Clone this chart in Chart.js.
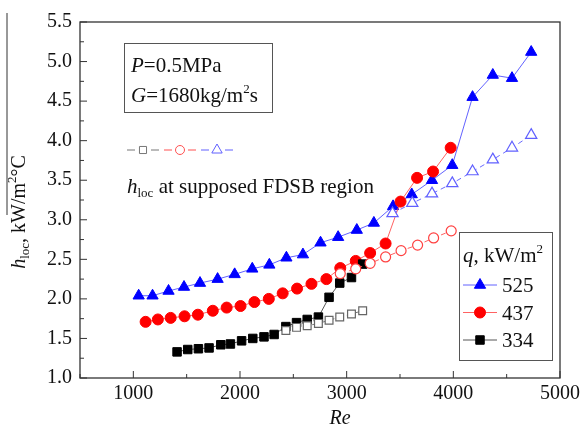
<!DOCTYPE html>
<html>
<head>
<meta charset="utf-8">
<script src="https://cdn.jsdelivr.net/npm/chart.js@4"></script>
<style>
  body { margin: 0; background: #fff; }
  #wrap { width: 584px; height: 428px; }
</style>
</head>
<body>
<div id="wrap"><canvas id="hlocChart" width="584" height="428"></canvas></div>
<script>
// q = 525 kW/m2
const re525 = [1050, 1180, 1330, 1475, 1625, 1790, 1950, 2115, 2275, 2435, 2590, 2755, 2920, 3095, 3255, 3435, 3610, 3800, 3990, 4180, 4370, 4550, 4730];
const h525 = [2.04, 2.04, 2.1, 2.15, 2.2, 2.25, 2.31, 2.38, 2.43, 2.52, 2.56, 2.71, 2.78, 2.87, 2.96, 3.17, 3.32, 3.5, 3.69, 4.55, 4.83, 4.79, 5.12];
// q = 437 kW/m2
const re437 = [1115, 1230, 1350, 1480, 1605, 1745, 1875, 2005, 2135, 2270, 2400, 2535, 2670, 2810, 2940, 3085, 3220, 3365, 3505, 3660, 3810, 3975];
const h437 = [1.71, 1.74, 1.76, 1.78, 1.8, 1.85, 1.89, 1.91, 1.96, 2.0, 2.07, 2.13, 2.19, 2.25, 2.39, 2.48, 2.58, 2.7, 3.23, 3.53, 3.61, 3.91];
// q = 334 kW/m2
const re334 = [1410, 1510, 1610, 1710, 1820, 1910, 2015, 2120, 2225, 2320, 2430, 2530, 2630, 2735, 2835, 2935, 3045, 3150];
const h334 = [1.33, 1.36, 1.37, 1.38, 1.42, 1.43, 1.47, 1.5, 1.52, 1.55, 1.65, 1.7, 1.74, 1.77, 2.02, 2.2, 2.27, 2.44];

// h_loc at supposed FDSB region (open symbols)
const reFd525 = [3430, 3615, 3800, 3990, 4180, 4370, 4550, 4730];
const hFd525 = [3.08, 3.21, 3.33, 3.46, 3.61, 3.76, 3.91, 4.07];
const reFd437 = [2940, 3085, 3220, 3365, 3510, 3665, 3815, 3980];
const hFd437 = [2.32, 2.38, 2.45, 2.53, 2.61, 2.68, 2.77, 2.86];
const reFd334 = [2430, 2530, 2630, 2735, 2835, 2935, 3045, 3150];
const hFd334 = [1.6, 1.64, 1.66, 1.69, 1.73, 1.77, 1.81, 1.85];

const xTicks = [1000, 2000, 3000, 4000, 5000];
const yTicks = [1.0, 1.5, 2.0, 2.5, 3.0, 3.5, 4.0, 4.5, 5.0, 5.5];
const legendLabels = ["525", "437", "334"];

const SERIF = "'Liberation Serif', 'DejaVu Serif', serif";

const pts = (xs, ys) => xs.map((v, i) => ({ x: v, y: ys[i] }));

const styles = {
  s525: { color: "#0000ff", line: "rgba(70,70,255,0.85)", shape: "triangle", r: 6.5 },
  s437: { color: "#ff0000", line: "rgba(255,70,70,0.85)", shape: "circle", r: 5.5 },
  s334: { color: "#000000", line: "#555555", shape: "rect", r: 6 },
};

const datasets = [
  {
    label: "FDSB 334",
    data: pts(reFd334, hFd334),
    borderColor: "#777777",
    pointStyle: "rect",
    pointRadius: 5.5,
    pointBorderColor: "#666666",
    pointBackgroundColor: "#ffffff",
    pointBorderWidth: 1.2,
    borderWidth: 1,
    borderDash: [5, 4],
  },
  {
    label: "FDSB 437",
    data: pts(reFd437, hFd437),
    borderColor: "rgba(255,80,80,0.9)",
    pointStyle: "circle",
    pointRadius: 5,
    pointBorderColor: "#ff4040",
    pointBackgroundColor: "#ffffff",
    pointBorderWidth: 1.2,
    borderWidth: 1,
    borderDash: [5, 4],
  },
  {
    label: "FDSB 525",
    data: pts(reFd525, hFd525),
    borderColor: "rgba(90,90,255,0.9)",
    pointStyle: "triangle",
    pointRadius: 6.5,
    pointBorderColor: "#6060ff",
    pointBackgroundColor: "#ffffff",
    pointBorderWidth: 1.2,
    borderWidth: 1,
    borderDash: [5, 4],
  },
  {
    label: "334",
    data: pts(re334, h334),
    borderColor: styles.s334.line,
    pointStyle: styles.s334.shape,
    pointRadius: styles.s334.r,
    pointBackgroundColor: styles.s334.color,
    pointBorderColor: styles.s334.color,
    borderWidth: 1,
  },
  {
    label: "437",
    data: pts(re437, h437),
    borderColor: styles.s437.line,
    pointStyle: styles.s437.shape,
    pointRadius: styles.s437.r,
    pointBackgroundColor: styles.s437.color,
    pointBorderColor: styles.s437.color,
    borderWidth: 1,
  },
  {
    label: "525",
    data: pts(re525, h525),
    borderColor: styles.s525.line,
    pointStyle: styles.s525.shape,
    pointRadius: styles.s525.r,
    pointBackgroundColor: styles.s525.color,
    pointBorderColor: styles.s525.color,
    borderWidth: 1,
  },
];

// draw a row of text runs (italic / subscript / superscript)
function drawRuns(ctx, runs, x, y, align) {
  let total = 0;
  runs.forEach((r) => {
    ctx.font = r.font;
    r.w = ctx.measureText(r.t).width;
    total += r.w;
  });
  let cx = align === "center" ? x - total / 2 : x;
  runs.forEach((r) => {
    ctx.font = r.font;
    ctx.fillText(r.t, cx, y + (r.dy || 0));
    cx += r.w;
  });
}

const f = (size, italic) => (italic ? "italic " : "") + size + "px " + SERIF;

const decor = {
  id: "decor",
  afterDraw(chart) {
    const { ctx, chartArea: a, scales } = chart;
    const x = scales.x;
    const y = scales.y;
    ctx.save();

    // frame
    ctx.strokeStyle = "#333";
    ctx.lineWidth = 1.3;
    ctx.strokeRect(a.left, a.top, a.right - a.left, a.bottom - a.top);

    // inward ticks
    ctx.lineWidth = 1;
    ctx.beginPath();
    xTicks.forEach((v) => {
      const px = x.getPixelForValue(v);
      ctx.moveTo(px, a.bottom);
      ctx.lineTo(px, a.bottom - 7);
      const pm = x.getPixelForValue(v - 500);
      ctx.moveTo(pm, a.bottom);
      ctx.lineTo(pm, a.bottom - 4);
    });
    yTicks.forEach((v, i) => {
      const py = y.getPixelForValue(v);
      ctx.moveTo(a.left, py);
      ctx.lineTo(a.left + 7, py);
      if (i > 0) {
        const pm = y.getPixelForValue(v - 0.25);
        ctx.moveTo(a.left, pm);
        ctx.lineTo(a.left + 4, pm);
      }
    });
    ctx.stroke();

    // stray line at far left of the figure
    ctx.beginPath();
    ctx.moveTo(7, 13);
    ctx.lineTo(7, 215);
    ctx.stroke();

    ctx.fillStyle = "#111";
    ctx.textBaseline = "alphabetic";

    // x title
    drawRuns(ctx, [{ t: "Re", font: f(20, true) }], 340, 424, "center");

    // y title
    ctx.save();
    ctx.translate(25, 212);
    ctx.rotate(-Math.PI / 2);
    drawRuns(ctx, [
      { t: "h", font: f(20, true) },
      { t: "loc", font: f(13), dy: 4 },
      { t: ", kW/m", font: f(20) },
      { t: "2", font: f(13), dy: -9 },
      { t: "°C", font: f(20) },
    ], 0, 0, "center");
    ctx.restore();

    // condition box
    ctx.strokeStyle = "#555";
    ctx.lineWidth = 1;
    ctx.strokeRect(124.5, 43.5, 148, 69);
    drawRuns(ctx, [
      { t: "P", font: f(21, true) },
      { t: "=0.5MPa", font: f(21) },
    ], 131, 72, "left");
    drawRuns(ctx, [
      { t: "G", font: f(21, true) },
      { t: "=1680kg/m", font: f(21) },
      { t: "2", font: f(13), dy: -9 },
      { t: "s", font: f(21) },
    ], 131, 102, "left");

    // open symbol key
    const keyY = 150;
    const keys = [
      { c0: 127, col: "#777", shape: "rect", r: 5 },
      { c0: 164, col: "#ff5050", shape: "circle", r: 4.5 },
      { c0: 201, col: "#6060ff", shape: "triangle", r: 6 },
    ];
    keys.forEach((k) => {
      ctx.strokeStyle = k.col;
      ctx.lineWidth = 1;
      ctx.beginPath();
      ctx.moveTo(k.c0, keyY);
      ctx.lineTo(k.c0 + 8, keyY);
      ctx.moveTo(k.c0 + 24, keyY);
      ctx.lineTo(k.c0 + 32, keyY);
      ctx.stroke();
      ctx.fillStyle = "#fff";
      Chart.helpers.drawPoint(ctx, { pointStyle: k.shape, radius: k.r, borderWidth: 1.2 }, k.c0 + 16, keyY);
    });

    ctx.fillStyle = "#111";
    drawRuns(ctx, [
      { t: "h", font: f(21, true) },
      { t: "loc", font: f(13), dy: 4 },
      { t: " at supposed FDSB region", font: f(21) },
    ], 127, 193, "left");

    // legend
    ctx.strokeStyle = "#555";
    ctx.lineWidth = 1;
    ctx.strokeRect(459.5, 232.5, 93, 128);
    drawRuns(ctx, [
      { t: "q", font: f(21, true) },
      { t: ", kW/m", font: f(21) },
      { t: "2", font: f(13), dy: -9 },
    ], 463, 262, "left");
    const order = [styles.s525, styles.s437, styles.s334];
    order.forEach((s, i) => {
      const ly = 285 + i * 27.5;
      ctx.strokeStyle = s.line;
      ctx.lineWidth = 1;
      ctx.beginPath();
      ctx.moveTo(463, ly);
      ctx.lineTo(497, ly);
      ctx.stroke();
      ctx.fillStyle = s.color;
      ctx.strokeStyle = s.color;
      Chart.helpers.drawPoint(ctx, { pointStyle: s.shape, radius: s.r, borderWidth: 1 }, 480, ly);
      ctx.fillStyle = "#111";
      drawRuns(ctx, [{ t: legendLabels[i], font: f(21) }], 502, ly + 7, "left");
    });

    ctx.restore();
  },
};

new Chart(document.getElementById("hlocChart"), {
  type: "scatter",
  data: { datasets: datasets },
  options: {
    responsive: false,
    animation: false,
    showLine: true,
    layout: { padding: { top: 22, right: 23, left: 0, bottom: 0 } },
    elements: { line: { tension: 0 } },
    plugins: {
      legend: { display: false },
      tooltip: { enabled: false },
    },
    scales: {
      x: {
        type: "linear",
        min: 500,
        max: 5000,
        afterBuildTicks: (s) => {
          s.ticks = xTicks.map((v) => ({ value: v }));
        },
        afterFit: (s) => {
          s.height = 50;
        },
        grid: { display: false, drawTicks: false },
        border: { display: false },
        ticks: {
          padding: 4,
          color: "#111",
          font: { family: SERIF, size: 20 },
          maxRotation: 0,
          callback: (v) => String(v),
        },
      },
      y: {
        type: "linear",
        min: 1,
        max: 5.5,
        afterBuildTicks: (s) => {
          s.ticks = yTicks.map((v) => ({ value: v }));
        },
        afterFit: (s) => {
          s.width = 80;
        },
        grid: { display: false, drawTicks: false },
        border: { display: false },
        ticks: {
          padding: 8,
          color: "#111",
          font: { family: SERIF, size: 20 },
          callback: (v) => v.toFixed(1),
        },
      },
    },
  },
  plugins: [decor],
});
</script>
</body>
</html>
